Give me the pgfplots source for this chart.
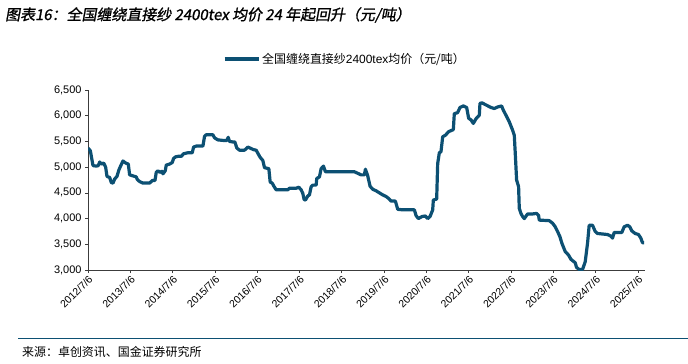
\documentclass[border=0pt]{standalone}
\usepackage{pgfplots}
\pgfplotsset{compat=1.18}
\usepackage{fontspec}
\setmainfont{Liberation Sans}
\newfontfamily\cjk{Noto Sans CJK SC}
\newfontfamily\cjktitle{Noto Sans CJK SC}[FakeSlant=0.18,FakeBold=1.2]
\definecolor{lineblue}{RGB}{12,80,115}
\definecolor{axisgray}{RGB}{60,60,60}
\begin{document}
\begin{tikzpicture}[x=1bp,y=1bp]
\useasboundingbox (0,0) rectangle (688,363);
\node[anchor=west,inner sep=0] at (5,348) {\cjktitle\fontsize{15}{17}\selectfont 图表16：全国缠绕直接纱\ 2400tex\ 均价\ 24\ 年起回升（元/吨）};
\begin{axis}[
  at={(88bp,93bp)}, anchor=south west,
  scale only axis, width=557bp, height=180bp,
  xmin=0, xmax=13.17, ymin=3000, ymax=6500,
  axis x line*=bottom, axis y line*=left,
  axis line style={axisgray, line width=0.8pt, -},
  tick style={axisgray, line width=0.6pt},
  tick align=outside, major tick length=3bp,
  xtick={0,1,...,13},
  xticklabels={2012/7/6,2013/7/6,2014/7/6,2015/7/6,2016/7/6,2017/7/6,2018/7/6,2019/7/6,2020/7/6,2021/7/6,2022/7/6,2023/7/6,2024/7/6,2025/7/6},
  x tick label style={rotate=45, anchor=north east, font=\fontsize{10.5}{12}\selectfont, inner sep=1bp},
  ytick={3000,3500,...,6500},
  y tick label style={font=\fontsize{11}{13}\selectfont},
  /pgf/number format/.cd, 1000 sep={,}, assume math mode=true,
  /pgfplots/.cd,
  legend style={draw=none, fill=none, at={(0.242,1.172)}, anchor=west, inner sep=0pt,
    font=\fontsize{12}{14}\selectfont},
  legend image code/.code={\draw[#1] (0bp,0bp) -- (34bp,0bp);},
]
\addplot[lineblue, line width=3.2bp, line join=round] coordinates {
(0,5370)(0.055,5320)(0.118,5030)(0.197,5020)(0.244,5030)(0.276,5100)(0.315,5060)(0.370,5080)(0.417,5000)(0.449,4820)(0.512,4800)(0.551,4700)(0.591,4690)(0.630,4770)(0.685,4820)(0.732,4950)(0.787,5050)(0.827,5120)(0.890,5080)(0.953,5060)(0.984,4850)(1.063,4830)(1.142,4810)(1.165,4760)(1.220,4720)(1.299,4690)(1.378,4690)(1.457,4690)(1.520,4740)(1.583,4740)(1.614,4900)(1.654,4930)(1.693,4900)(1.748,4920)(1.772,4870)(1.827,4930)(1.850,5040)(1.929,5060)(1.992,5090)(2.024,5170)(2.071,5200)(2.126,5210)(2.205,5210)(2.260,5260)(2.362,5280)(2.465,5280)(2.496,5390)(2.559,5410)(2.717,5410)(2.756,5600)(2.795,5630)(2.953,5630)(2.992,5570)(3.071,5530)(3.189,5520)(3.283,5520)(3.315,5580)(3.346,5500)(3.425,5490)(3.472,5490)(3.520,5370)(3.583,5330)(3.701,5330)(3.780,5390)(3.835,5370)(3.913,5340)(3.976,5330)(4.016,5270)(4.071,5190)(4.134,5130)(4.173,4990)(4.276,4970)(4.307,4710)(4.354,4690)(4.409,4610)(4.449,4560)(4.606,4560)(4.724,4560)(4.764,4590)(4.921,4590)(4.984,4610)(5.039,4560)(5.079,4490)(5.110,4370)(5.142,4360)(5.197,4440)(5.236,4460)(5.276,4620)(5.315,4650)(5.394,4650)(5.409,4780)(5.472,4810)(5.512,4970)(5.567,5020)(5.614,4910)(6.299,4910)(6.378,4880)(6.457,4850)(6.535,4850)(6.559,4960)(6.614,4830)(6.669,4630)(6.732,4570)(6.811,4540)(6.890,4500)(6.969,4460)(7.047,4430)(7.110,4390)(7.165,4340)(7.268,4340)(7.323,4180)(7.441,4170)(7.717,4170)(7.756,4060)(7.811,4000)(7.898,4040)(7.976,4050)(8.031,4000)(8.087,4040)(8.150,4170)(8.165,4360)(8.244,4380)(8.268,5070)(8.307,5280)(8.346,5300)(8.386,5590)(8.449,5620)(8.528,5690)(8.638,5730)(8.661,6040)(8.740,6060)(8.795,6160)(8.874,6190)(8.953,6160)(9.000,5950)(9.055,5920)(9.110,5850)(9.173,5940)(9.252,6010)(9.268,6240)(9.315,6250)(9.409,6210)(9.528,6160)(9.606,6140)(9.685,6170)(9.780,6190)(9.819,6110)(9.882,6010)(9.961,5880)(10.039,5720)(10.079,5620)(10.102,5270)(10.134,4750)(10.181,4620)(10.197,4200)(10.236,4100)(10.276,4040)(10.315,4000)(10.394,4090)(10.512,4090)(10.606,4100)(10.654,4060)(10.669,3970)(10.906,3960)(10.984,3910)(11.047,3840)(11.102,3750)(11.157,3650)(11.205,3520)(11.283,3360)(11.362,3290)(11.417,3210)(11.520,3140)(11.551,3050)(11.614,3010)(11.693,3010)(11.756,3160)(11.811,3520)(11.850,3870)(11.929,3870)(11.992,3750)(12.047,3710)(12.165,3700)(12.283,3690)(12.362,3660)(12.402,3620)(12.441,3730)(12.559,3730)(12.622,3730)(12.677,3840)(12.756,3870)(12.811,3840)(12.858,3760)(12.937,3710)(13.016,3690)(13.071,3620)(13.110,3530)(13.150,3530)
};
\addlegendentry{{\cjk 全国缠绕直接纱}2400tex{\cjk 均价（元/吨）}}
\end{axis}
\draw[lineblue, line width=1bp] (18,25) -- (688,25);
\node[anchor=west,inner sep=0] at (22,11) {\cjk\fontsize{12}{14}\selectfont 来源：卓创资讯、国金证券研究所};
\end{tikzpicture}
\end{document}
